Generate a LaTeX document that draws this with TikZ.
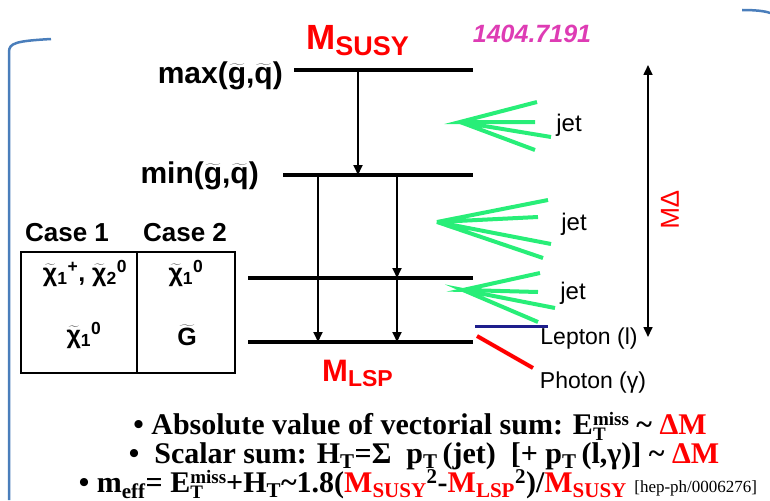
\documentclass[tikz,border=0pt]{standalone}
\usepackage{fontspec}
\usepackage{graphicx}
\setmainfont{Liberation Serif}
\setsansfont{Liberation Sans}
\usetikzlibrary{arrows.meta}
\definecolor{frameblue}{RGB}{74,126,187}
\definecolor{jetgreen}{RGB}{40,238,120}
\definecolor{lepblue}{RGB}{30,30,140}
\definecolor{arxivpink}{RGB}{222,60,180}
\newcommand{\fsz}[1]{\fontsize{#1}{#1}\selectfont}
\newcommand{\sptl}[1]{$\widetilde{\mbox{#1}}$}
\newcommand{\Emiss}{E\rlap{\raisebox{-6pt}{\fsz{19}T}}\raisebox{9pt}{\fsz{19}miss}}
\tikzset{
  level/.style={line width=4pt},
  decay/.style={->,line width=1.8pt},
  jetline/.style={jetgreen,line width=4pt},
  lbl/.style={font=\sffamily\bfseries\fsz{26},inner sep=0},
  tbl/.style={font=\sffamily\bfseries\fsz{25}},
  jetlbl/.style={font=\sffamily\fsz{24}},
  bline/.style={font=\bfseries\fsz{30}}
}
\begin{document}
\begin{tikzpicture}[x=1pt,y=-1pt,>={Triangle[length=10pt,width=9pt]},line cap=butt]
  \useasboundingbox (0,0) rectangle (770,500);
  % frame corners
  \draw[frameblue,line width=2.5pt] (9,500)--(9,52) .. controls (9,43) and (16,41) .. (51,39);
  \draw[frameblue,line width=2.5pt] (742,10) .. controls (755,10) and (765,11) .. (770,13);
  % mass levels
  \coordinate (t1) at (294,70);
  \coordinate (t2) at (473,70);
  \coordinate (m1) at (283,175);
  \coordinate (m2) at (473,175);
  \coordinate (c1) at (248,278);
  \coordinate (c2) at (473,278);
  \coordinate (b1) at (248,342);
  \coordinate (b2) at (473,342);
  \draw[level] (t1)--(t2);
  \draw[level] (m1)--(m2);
  \draw[level] (c1)--(c2);
  \draw[level] (b1)--(b2);
  % decays
  \coordinate (d1a) at (358,70);
  \coordinate (d1b) at (358,175);
  \coordinate (d2a) at (318,175);
  \coordinate (d2b) at (318,342);
  \coordinate (d3a) at (397,175);
  \coordinate (d3b) at (397,278);
  \coordinate (d4b) at (397,342);
  \draw[decay] (d1a)--(d1b);
  \draw[decay] (d2a)--(d2b);
  \draw[decay] (d3a)--(d3b);
  \draw[decay] (d3b)--(d4b);
  \node[text=red,anchor=base west,inner sep=0] (msusy) at (306,50)
    {\sffamily\bfseries\fsz{35}M\raisebox{-6pt}{\fsz{27}SUSY}};
  \node[text=red,anchor=base west,inner sep=0] (mlsp) at (322,381)
    {\sffamily\bfseries\fsz{31}M\raisebox{-5pt}{\fsz{23}LSP}};
  \node[text=arxivpink,font=\sffamily\bfseries\itshape\fsz{25}] (arxiv) at (532,34) {1404.7191};
  \node[lbl,anchor=east,font=\sffamily\bfseries\fsz{30}] (maxgq) at (283,76) {max(\sptl{g},\sptl{q})};
  \node[lbl,anchor=east,font=\sffamily\bfseries\fsz{30}] (mingq) at (259,176) {min(\sptl{g},\sptl{q})};
  % case table
  \node[lbl] (case1) at (67,233) {Case 1};
  \node[lbl] (case2) at (185,233) {Case 2};
  \draw[line width=2pt] (21,252) rectangle (235,373);
  \draw[line width=1.5pt] (137,252)--(137,373);
  \node[tbl] (n1a) at (85,273) {\sptl{χ}\textsubscript{1}\textsuperscript{+}, \sptl{χ}\textsubscript{2}\textsuperscript{0}};
  \node[tbl] (n2a) at (186,273) {\sptl{χ}\textsubscript{1}\textsuperscript{0}};
  \node[tbl] (n1b) at (84,335) {\sptl{χ}\textsubscript{1}\textsuperscript{0}};
  \node[tbl] (n2b) at (187,335) {\sptl{G}};
  % jets
  \coordinate (j1) at (460,122);
  \draw[jetline] (537,102)--(j1)--(535,122);
  \draw[jetline] (551,137)--(j1)--(535,150);
  \coordinate (j2) at (437,222);
  \draw[jetline] (548,200)--(j2)--(538,217);
  \draw[jetline] (551,244)--(j2)--(543,258);
  \coordinate (j3) at (463,290);
  \draw[jetline] (540,273)--(j3)--(538,292);
  \draw[jetline] (555,308)--(j3)--(538,322);
  \node[jetlbl] (jet1) at (569,125) {jet};
  \node[jetlbl] (jet2) at (574,224) {jet};
  \node[jetlbl] (jet3) at (573,293) {jet};
  % lepton and photon
  \draw[lepblue,line width=3pt] (475,326)--(548,326);
  \draw[red,line width=4pt] (477,336)--(533,368);
  \node[jetlbl,font=\sffamily\fsz{23}] (lep) at (589,339) {Lepton (l)};
  \node[jetlbl,font=\sffamily\fsz{23}] (pho) at (593,383) {Photon (γ)};
  % mass gap
  \coordinate (g1) at (648,65);
  \coordinate (g2) at (648,337);
  \draw[<->,line width=1.6pt] (g1)--(g2);
  \node[text=red,font=\sffamily\fsz{26}] (dm) at (670,210) {\reflectbox{\rotatebox{-90}{ΔM}}};
  % formulas
  \node[bline] (l1) at (420,426) {\textbullet\ Absolute value of vectorial sum: \Emiss\ \textasciitilde\ {\color{red}ΔM}};
  \node[bline] (l2) at (424,456) {\textbullet\ \ Scalar sum: H\textsubscript{T}=Σ\ \ p\textsubscript{T}\,(jet)\ \ [+ p\textsubscript{T}\,(l,γ)] \textasciitilde\ {\color{red}ΔM}};
  \node[bline] (l3) at (418,484) {\textbullet\ m\textsubscript{eff}= \Emiss+H\textsubscript{T}\textasciitilde1.8({\color{red}M\textsubscript{SUSY}}\textsuperscript{2}-{\color{red}M\textsubscript{LSP}}\textsuperscript{2})/{\color{red}M\textsubscript{SUSY}} {\mdseries\fsz{17}[hep-ph/0006276]}};
\end{tikzpicture}
\end{document}
